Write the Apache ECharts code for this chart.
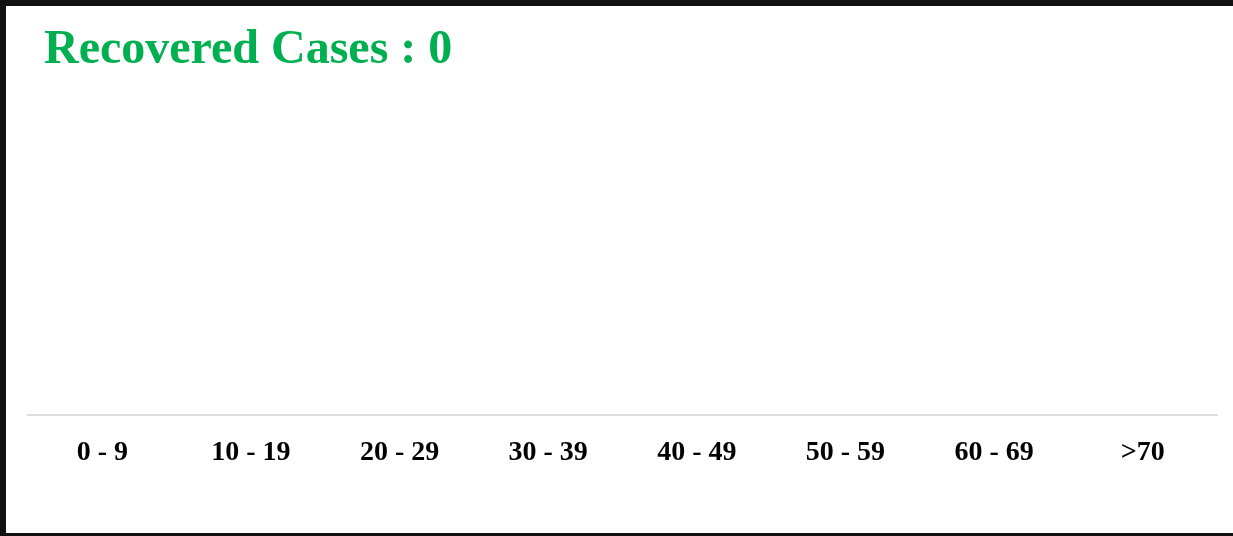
<!DOCTYPE html>
<html>
<head>
<meta charset="utf-8">
<script src="https://cdn.jsdelivr.net/npm/echarts@6/dist/echarts.min.js"></script>
<style>
  html, body { margin: 0; padding: 0; width: 1233px; height: 536px; overflow: hidden; background: #fff; }
  #frame { position: absolute; left: 0; top: 0; width: 1240px; height: 527px; border-top: 6px solid #111; border-left: 6px solid #111; border-bottom: 3px solid #111; }
  #chart { position: absolute; left: 0; top: 0; width: 1233px; height: 536px; }
</style>
</head>
<body>
<div id="frame"></div>
<div id="chart"></div>
<script>
const titleText = 'Recovered Cases : 0';
const categories = ['0 - 9', '10 - 19', '20 - 29', '30 - 39', '40 - 49', '50 - 59', '60 - 69', '>70'];
const recovered = [0, 0, 0, 0, 0, 0, 0, 0];

const chart = echarts.init(document.getElementById('chart'), null, { renderer: 'canvas' });
chart.setOption({
  animation: false,
  title: {
    text: titleText,
    left: 44,
    top: 27,
    padding: 0,
    textStyle: { fontFamily: 'Liberation Serif', fontWeight: 'bold', fontSize: 48, color: '#00b050' }
  },
  grid: { left: 28, right: 16, top: 100, bottom: 121, containLabel: false },
  xAxis: {
    type: 'category',
    data: categories,
    axisLine: { show: true, lineStyle: { color: '#dddddd', width: 2 } },
    axisTick: { show: false },
    axisLabel: { margin: 24, fontFamily: 'Liberation Serif', fontWeight: 'bold', fontSize: 28, color: '#000' }
  },
  yAxis: {
    type: 'value', min: 0, max: 1, show: false,
    splitLine: { show: false }
  },
  series: [{
    type: 'bar',
    data: recovered,
    itemStyle: { color: '#00b050' }
  }]
});
</script>
</body>
</html>
